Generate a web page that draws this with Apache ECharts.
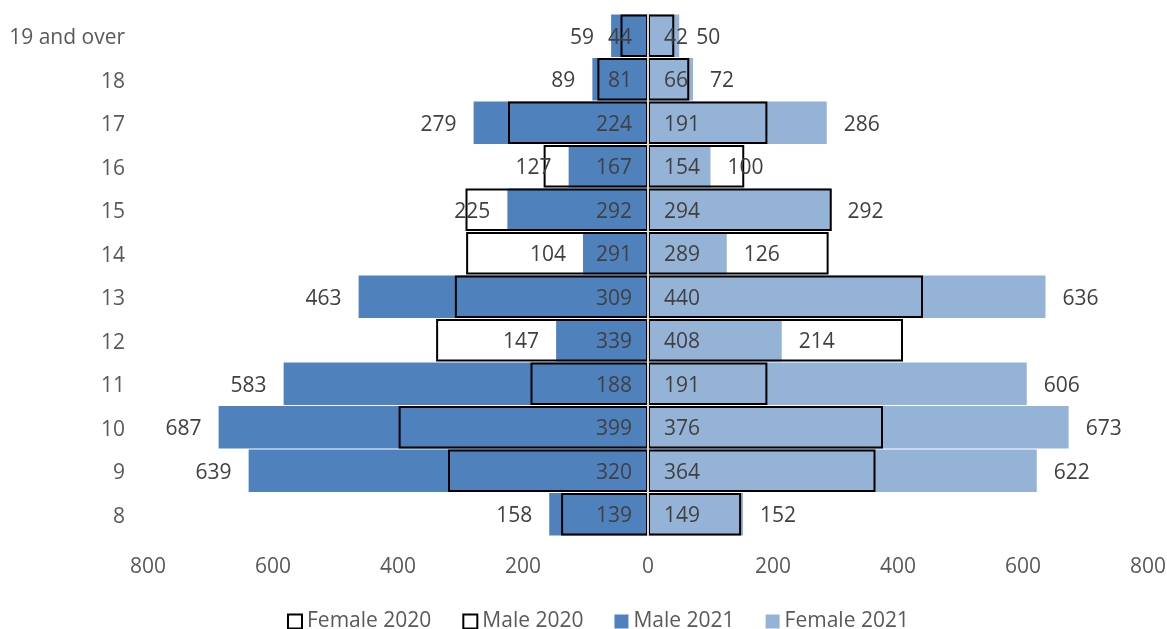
<!DOCTYPE html>
<html>
<head>
<meta charset="utf-8">
<title>Pupils by age, 2020 and 2021</title>
<script src="https://cdn.jsdelivr.net/npm/echarts@6/dist/echarts.min.js"></script>
<style>
  html, body { margin: 0; padding: 0; background: #ffffff; }
  #chart { width: 1167px; height: 629px; }
</style>
</head>
<body>
<div id="chart"></div>
<script>
// Age groups, bottom to top
const ages = ['8', '9', '10', '11', '12', '13', '14', '15', '16', '17', '18', '19 and over'];

// Counts per age group (same order as ages)
const male2021   = [158, 639, 687, 583, 147, 463, 104, 225, 127, 279, 89, 59];
const male2020   = [139, 320, 399, 188, 339, 309, 291, 292, 167, 224, 81, 44];
const female2020 = [149, 364, 376, 191, 408, 440, 289, 294, 154, 191, 66, 42];
const female2021 = [152, 622, 673, 606, 214, 636, 126, 292, 100, 286, 72, 50];

const FONT = '"Open Sans", "Liberation Sans", sans-serif';
const DARK = '#4F81BD';
const LIGHT = '#95B3D7';
const LABEL_COLOR = '#404040';
const AXIS_COLOR = '#595959';

const absFmt = p => Math.abs(p.value);

const chart = echarts.init(document.getElementById('chart'), null, { renderer: 'canvas' });

// shared style for the value labels on the bars
const labelBase = {
  show: true,
  fontFamily: FONT,
  fontSize: 21,
  color: LABEL_COLOR,
  offset: [0, 2],
  formatter: absFmt
};

// 2020 bars are drawn as black outlines over the 2021 bars
const outlineStyle = {
  color: 'rgba(0,0,0,0)',
  borderColor: '#000000',
  borderWidth: 2
};

chart.setOption({
  animation: false,
  backgroundColor: '#ffffff',
  textStyle: { fontFamily: FONT },
  grid: {
    left: 148,
    right: 19,
    top: 14,
    bottom: 93,
    containLabel: false,
    outerBoundsMode: 'none'
  },
  legend: {
    left: 282,
    top: 606,
    icon: 'rect',
    itemWidth: 14,
    itemHeight: 14,
    itemGap: 31,
    textStyle: { fontFamily: FONT, fontSize: 21, color: AXIS_COLOR },
    data: [
      { name: 'Female 2020', itemStyle: { color: '#ffffff', borderColor: '#000000', borderWidth: 2 } },
      { name: 'Male 2020',   itemStyle: { color: '#ffffff', borderColor: '#000000', borderWidth: 2 } },
      { name: 'Male 2021',   itemStyle: { color: DARK, borderWidth: 0 } },
      { name: 'Female 2021', itemStyle: { color: LIGHT, borderWidth: 0 } }
    ]
  },
  xAxis: {
    type: 'value',
    min: -800,
    max: 800,
    interval: 200,
    axisLine: { show: false },
    axisTick: { show: false },
    splitLine: { show: false },
    axisLabel: {
      margin: 21,
      fontFamily: FONT,
      fontSize: 21,
      color: AXIS_COLOR,
      formatter: v => Math.abs(v)
    }
  },
  yAxis: {
    type: 'category',
    data: ages,
    axisLine: { show: false, onZero: false },
    axisTick: { show: false },
    splitLine: { show: false },
    axisLabel: {
      margin: 23,
      fontFamily: FONT,
      fontSize: 21,
      color: AXIS_COLOR,
      formatter: v => '{t|' + v + '}',
      rich: {
        t: { fontFamily: FONT, fontSize: 21, color: AXIS_COLOR, padding: [5, 0, 0, 0] }
      }
    }
  },
  series: [
    {
      name: 'Male 2021',
      type: 'bar',
      barGap: '-100%',
      barCategoryGap: '2%',
      data: male2021.map(v => -v),
      itemStyle: { color: DARK },
      label: Object.assign({}, labelBase, { position: 'outside', distance: 17 })
    },
    {
      name: 'Female 2021',
      type: 'bar',
      barGap: '-100%',
      barCategoryGap: '2%',
      data: female2021,
      itemStyle: { color: LIGHT },
      label: Object.assign({}, labelBase, { position: 'right', distance: 17 })
    },
    {
      name: 'Male 2020',
      type: 'bar',
      barGap: '-100%',
      barCategoryGap: '2%',
      data: male2020.map(v => -v),
      itemStyle: outlineStyle,
      label: Object.assign({}, labelBase, { position: 'insideRight', distance: 16 })
    },
    {
      name: 'Female 2020',
      type: 'bar',
      barGap: '-100%',
      barCategoryGap: '2%',
      data: female2020,
      itemStyle: outlineStyle,
      label: Object.assign({}, labelBase, { position: 'insideLeft', distance: 16 }),
      // light grey divider at zero between the two sides
      markLine: {
        silent: true,
        symbol: ['none', 'none'],
        label: { show: false },
        lineStyle: { color: '#D9D9D9', width: 2, type: 'solid' },
        emphasis: { disabled: true },
        data: [{ xAxis: 0 }]
      }
    }
  ]
});
</script>
</body>
</html>
